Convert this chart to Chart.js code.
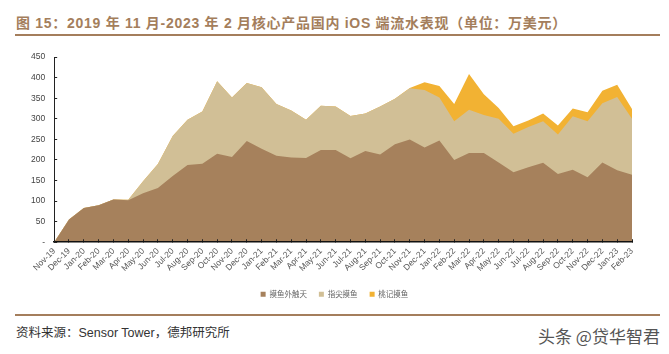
<!DOCTYPE html>
<html>
<head>
<meta charset="utf-8">
<style>
html, body { margin: 0; padding: 0; background: #fff; }
#page { position: relative; width: 669px; height: 354px; overflow: hidden; font-family: "Liberation Sans", sans-serif; }
#title { position: absolute; left: 16px; top: 12px; font: bold 14px "Liberation Sans", "Noto Sans CJK SC", sans-serif; color: #a47e5c; white-space: nowrap; letter-spacing: 0.72px; }
.rule { position: absolute; left: 15px; width: 645px; height: 2px; background: #a47e5c; }
#wrap { position: absolute; left: 0; top: 40px; width: 669px; height: 270px; }
#source { position: absolute; left: 16px; top: 322px; font: 12.5px "Liberation Sans", "Noto Sans CJK SC", sans-serif; color: #333; white-space: nowrap; }
#mark { position: absolute; left: 538px; top: 323px; font: 17px "Noto Sans CJK SC", sans-serif; color: #555; white-space: nowrap; }
</style>
</head>
<body>
<div id="page">
  <div id="title">图 15：2019 年 11 月-2023 年 2 月核心产品国内 iOS 端流水表现（单位：万美元）</div>
  <div class="rule" style="top:34px"></div>
  <div id="wrap"><canvas id="chart" width="669" height="270"></canvas></div>
  <div class="rule" style="top:314px"></div>
  <div id="source">资料来源：Sensor Tower，德邦研究所</div>
  <div id="mark">头条 @贷华智君</div>
</div>
<script src="https://cdn.jsdelivr.net/npm/chart.js@4"></script>
<script>
const labels = ["Nov-19","Dec-19","Jan-20","Feb-20","Mar-20","Apr-20","May-20","Jun-20","Jul-20","Aug-20","Sep-20","Oct-20","Nov-20","Dec-20","Jan-21","Feb-21","Mar-21","Apr-21","May-21","Jun-21","Jul-21","Aug-21","Sep-21","Oct-21","Nov-21","Dec-21","Jan-22","Feb-22","Mar-22","Apr-22","May-22","Jun-22","Jul-22","Aug-22","Sep-22","Oct-22","Nov-22","Dec-22","Jan-23","Feb-23"];
// 近似值
const seriesA = [0,55,83,90,104,102,119,132,161,188,191,215,207,246,227,210,206,205,224,224,204,222,213,238,250,230,247,200,217,217,194,170,182,193,166,176,158,194,175,164];
const seriesB = [0,0,0,0,0,1,29,58,97,110,127,176,145,141,150,126,114,93,108,106,103,91,117,111,124,140,105,94,105,92,106,94,98,101,96,130,136,144,178,136];
const seriesC = [0,0,0,0,0,0,0,0,0,0,0,0,0,0,0,0,0,0,0,0,0,0,0,0,1,19,28,42,87,51,26,18,16,19,22,19,22,30,30,24];
const seriesNames = ["摸鱼外触天", "指尖摸鱼", "桃记摸鱼"];
const yTicks = [0,50,100,150,200,250,300,350,400,450];

function areaSet(label, data, color) {
    return {
        label: label,
        data: data,
        fill: true,
        backgroundColor: color,
        borderColor: color,
        borderWidth: 0,
        pointRadius: 0,
        tension: 0
    };
}

// 图例在原图里比画布中心略偏右，也略靠上
const legendShift = {
    id: "legendShift",
    afterLayout: function (chart) {
        chart.legend.left += 9;
        chart.legend.right += 9;
        chart.legend.top -= 2;
        chart.legend.bottom -= 2;
    }
};

new Chart(document.getElementById("chart").getContext("2d"), {
    type: "line",
    data: {
        labels: labels,
        datasets: [
            areaSet(seriesNames[0], seriesA, "#a6815c"),
            areaSet(seriesNames[1], seriesB, "#d1bf96"),
            areaSet(seriesNames[2], seriesC, "#f2b233")
        ]
    },
    plugins: [legendShift],
    options: {
        responsive: false,
        animation: false,
        layout: { padding: { left: 19, right: 37, top: 7, bottom: 0 } },
        scales: {
            x: {
                grid: { display: true, drawOnChartArea: false, tickLength: -3, color: "#222", z: 1 },
                border: { color: "#111", width: 1.5, z: 1 },
                ticks: { color: "#555", font: { size: 8.5, family: "Liberation Sans" }, maxRotation: 45, minRotation: 45, autoSkip: false, padding: 7 },
                offset: false
            },
            y: {
                stacked: true,
                min: 0,
                max: 450,
                afterBuildTicks: function (axis) { axis.ticks = yTicks.map(function (v) { return { value: v }; }); },
                grid: { display: true, drawOnChartArea: false, tickLength: -3, color: "#222", z: 1 },
                border: { color: "#222", width: 1, z: 1 },
                ticks: {
                    color: "#444",
                    font: { size: 8.5, family: "Liberation Sans" },
                    padding: 12,
                    callback: function (v) { return v === 0 ? "-" : v; }
                }
            }
        },
        plugins: {
            legend: {
                position: "bottom",
                labels: { boxWidth: 5, boxHeight: 5, color: "#666", padding: 12, font: { size: 7.5, family: "Noto Sans CJK SC" } }
            },
            tooltip: { enabled: false }
        }
    }
});
</script>
</body>
</html>
